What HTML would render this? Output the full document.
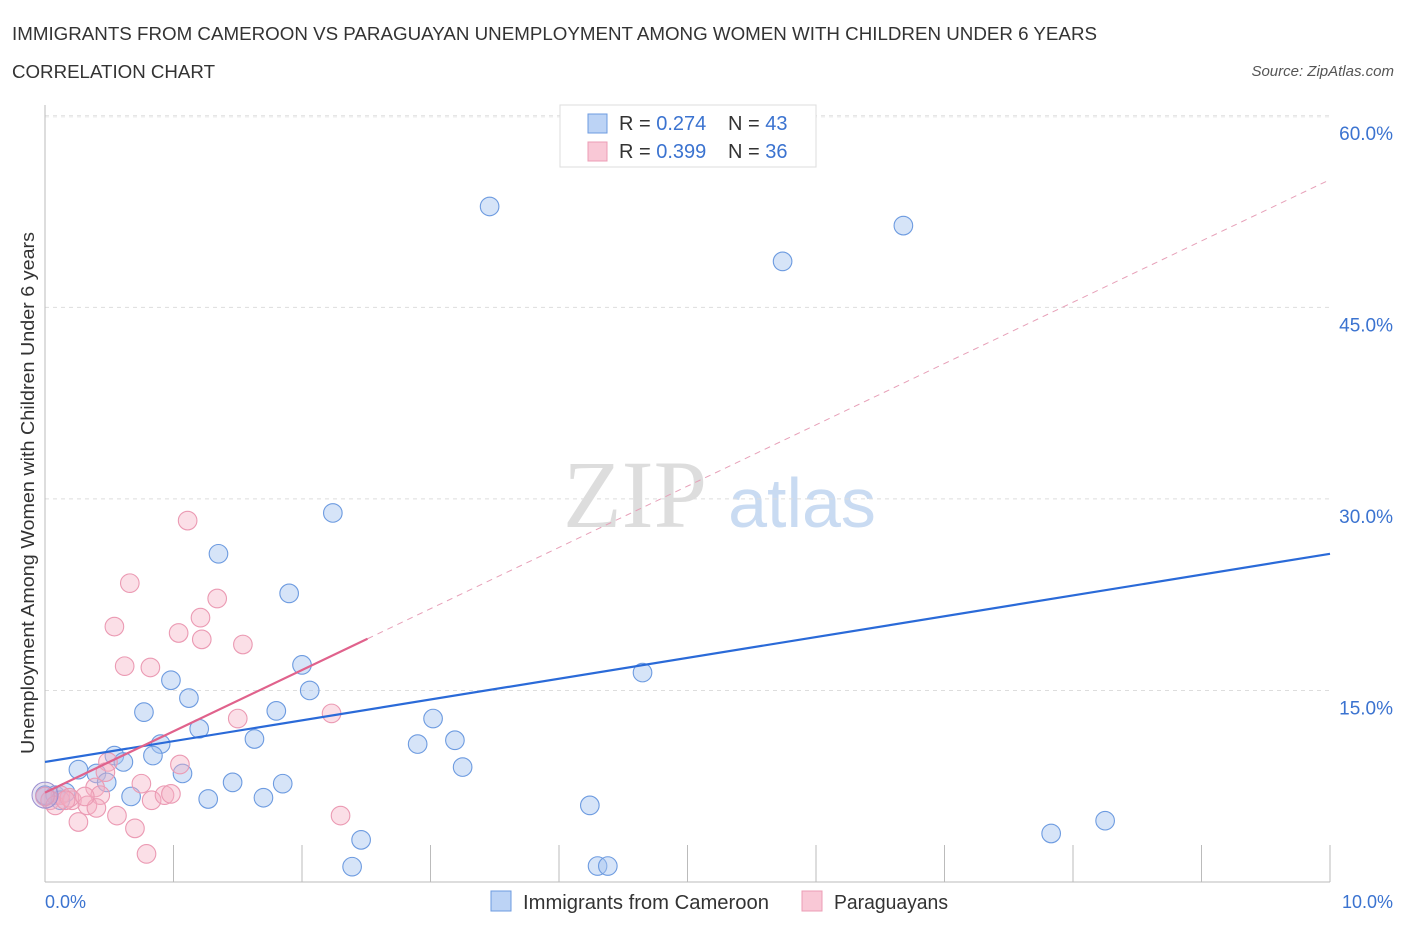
<!DOCTYPE html>
<html><head><meta charset="utf-8"><style>
body{margin:0;background:#fff;font-family:"Liberation Sans",sans-serif;}
svg text{font-family:"Liberation Sans",sans-serif;}
</style></head><body>
<svg id="c" width="1406" height="930">
<text x="12" y="40" font-size="18" fill="#333" textLength="1085" lengthAdjust="spacingAndGlyphs">IMMIGRANTS FROM CAMEROON VS PARAGUAYAN UNEMPLOYMENT AMONG WOMEN WITH CHILDREN UNDER 6 YEARS</text>
<text x="12" y="78" font-size="18" fill="#333" textLength="203" lengthAdjust="spacingAndGlyphs">CORRELATION CHART</text>
<text x="1394" y="76" font-size="15" fill="#555" font-style="italic" text-anchor="end">Source: ZipAtlas.com</text>
<text x="635" y="527" font-size="96" fill="#ddd" text-anchor="middle" font-family="Liberation Serif" style="font-family:'Liberation Serif',serif">ZIP</text>
<text x="802" y="527" font-size="70" fill="#c9dbf2" text-anchor="middle">atlas</text>
<g id="grid"></g><g id="marks"></g>
<text transform="translate(34,493) rotate(-90)" font-size="18" fill="#333" text-anchor="middle" textLength="522" lengthAdjust="spacingAndGlyphs">Unemployment Among Women with Children Under 6 years</text>
<text x="45" y="908" font-size="18" fill="#3b73d0">0.0%</text>
<text x="1393" y="908" font-size="18" fill="#3b73d0" text-anchor="end">10.0%</text>
<g>
<rect x="560" y="105" width="256" height="62" fill="#fff" stroke="#ddd"/>
<rect x="588" y="114" width="19" height="19" fill="#bcd3f5" stroke="#6d9be0"/>
<rect x="588" y="142" width="19" height="19" fill="#f9c8d6" stroke="#ec9db5"/>
<text x="619" y="130" font-size="20" fill="#333">R = <tspan fill="#3b73d0">0.274</tspan><tspan x="728">N = </tspan><tspan fill="#3b73d0">43</tspan></text>
<text x="619" y="158" font-size="20" fill="#333">R = <tspan fill="#3b73d0">0.399</tspan><tspan x="728">N = </tspan><tspan fill="#3b73d0">36</tspan></text>
</g>
<g>
<rect x="491" y="891" width="20" height="20" fill="#bcd3f5" stroke="#6d9be0"/>
<text x="523" y="909" font-size="20" fill="#333" textLength="246" lengthAdjust="spacingAndGlyphs">Immigrants from Cameroon</text>
<rect x="802" y="891" width="20" height="20" fill="#f9c8d6" stroke="#ec9db5"/>
<text x="834" y="909" font-size="20" fill="#333" textLength="114" lengthAdjust="spacingAndGlyphs">Paraguayans</text>
</g>
</svg>
<script>
const blueX=[3.46,6.68,5.74,2.24,1.35,1.90,2.0,4.65,0.98,2.06,1.12,0.77,1.80,3.02,1.20,1.63,3.19,0.90,2.90,0.84,0.54,0.61,3.25,0.26,0.40,1.07,0.48,1.46,1.85,0.67,1.27,1.70,4.24,8.25,7.83,2.46,2.39,4.30,4.38,0.08,0.16,0.0,0.12];
const blueY=[52.9,51.4,48.6,28.9,25.7,22.6,17.0,16.4,15.8,15.0,14.4,13.3,13.4,12.8,12.0,11.2,11.1,10.8,10.8,9.9,9.9,9.4,9.0,8.8,8.5,8.5,7.8,7.8,7.7,6.7,6.5,6.6,6.0,4.8,3.8,3.3,1.2,1.25,1.25,6.8,7.0,6.8,6.4];
const pinkX=[1.11,0.66,1.34,1.21,0.54,1.04,1.22,1.54,0.62,0.82,1.50,2.23,0.49,1.05,0.47,0.75,0.39,0.43,0.83,0.93,0.98,0.12,0.04,0.08,0.21,0.33,0.40,0.26,0.56,0.70,2.30,0.79,0.19,0.0,0.16,0.31];
const pinkY=[28.3,23.4,22.2,20.7,20.0,19.5,19.0,18.6,16.9,16.8,12.8,13.2,9.4,9.2,8.6,7.7,7.4,6.8,6.4,6.8,6.9,6.8,6.4,6.0,6.4,6.0,5.8,4.7,5.2,4.2,5.2,2.2,6.6,6.7,6.4,6.7];
const yTicks=[15,30,45,60];
const blueTrend=[9.4,25.7];
const pinkTrend=[7.0,55.0];
const pinkSolidEnd=2.51;
const sx=v=>45+v*128.5, sy=v=>882-v*12.77;
const NS="http://www.w3.org/2000/svg";
function mk(t,a,p){const e=document.createElementNS(NS,t);for(const k in a)e.setAttribute(k,a[k]);p.appendChild(e);return e;}
const g=document.getElementById('grid'),m=document.getElementById('marks');
yTicks.forEach(t=>{
 const l=mk('line',{x1:45,x2:1330,y1:sy(t),y2:sy(t),stroke:'#ddd','stroke-dasharray':'4,4'},g);
 
 
 const tx=mk('text',{x:1393,y:sy(t)+24,'font-size':19,fill:'#3b73d0','text-anchor':'end'},g);
 tx.textContent=t.toFixed(1)+'%';
 
 
});
const tl=mk('line',{x1:45,x2:1330,y1:117,y2:117,stroke:'#eee','stroke-dasharray':'4,4'},g);


const ya=mk('line',{x1:45,x2:45,y1:105,y2:882,stroke:'#bbb'},g);


const xa=mk('line',{x1:45,x2:1330,y1:882,y2:882,stroke:'#bbb'},g);


for(let i=1;i<=10;i++){const t=mk('line',{x1:sx(i),x2:sx(i),y1:845,y2:882,stroke:'#bbb'},g);
 
 }
function dots(X,Y,fill,stroke,name){X.forEach((x,i)=>{const c=mk('circle',{cx:sx(x),cy:sy(Y[i]),r:9.3,fill:fill,stroke:stroke,'stroke-width':1.1},m);
 
 });}
dots(blueX,blueY,'rgba(164,196,240,0.45)','#6d9be0','cameroon-point');
dots(pinkX,pinkY,'rgba(244,174,196,0.4)','#eb9ab3','paraguayan-point');
const big=mk('circle',{cx:sx(0),cy:sy(6.8),r:13,fill:'rgba(180,160,210,0.3)',stroke:'#9a8fd0'},m);


const bl=mk('line',{x1:sx(0),y1:sy(blueTrend[0]),x2:sx(10),y2:sy(blueTrend[1]),stroke:'#2a6ad8','stroke-width':2.2},m);


const pk=v=>pinkTrend[0]+(pinkTrend[1]-pinkTrend[0])*v/10;
const pd=mk('line',{x1:sx(pinkSolidEnd),y1:sy(pk(pinkSolidEnd)),x2:sx(10),y2:sy(pinkTrend[1]),stroke:'#e7a0b8','stroke-width':1,'stroke-dasharray':'6,5'},m);


const ps=mk('line',{x1:sx(0),y1:sy(pinkTrend[0]),x2:sx(pinkSolidEnd),y2:sy(pk(pinkSolidEnd)),stroke:'#e0628c','stroke-width':2.2},m);


</script>
</body></html>
